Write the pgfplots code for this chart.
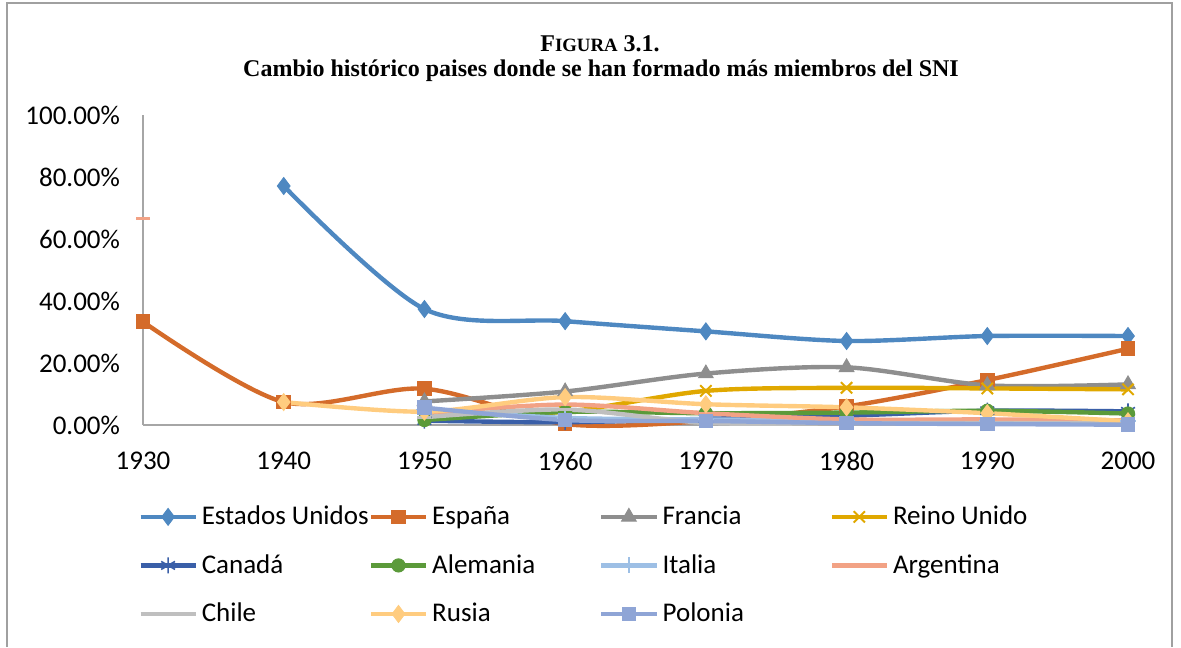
\documentclass[border=0pt]{standalone}
\usepackage{pgfplots}
\pgfplotsset{compat=1.18}
\usepackage{fontspec}
\setmainfont{Carlito}
\newfontfamily\tnr{Liberation Serif}
\definecolor{cEU}{HTML}{4E88C1}
\definecolor{cES}{HTML}{D46B2A}
\definecolor{cFR}{HTML}{8E8E8E}
\definecolor{cRU}{HTML}{E0A800}
\definecolor{cCA}{HTML}{3A5FA8}
\definecolor{cAL}{HTML}{5B9A3A}
\definecolor{cIT}{HTML}{9DBFE5}
\definecolor{cAR}{HTML}{F2A285}
\definecolor{cCH}{HTML}{BFBFBF}
\definecolor{cRS}{HTML}{FFCC7F}
\definecolor{cPO}{HTML}{8FA5D6}
\definecolor{axGray}{HTML}{A6A6A6}
\definecolor{frameGray}{HTML}{A0A0A0}
\newcommand{\legtxt}[1]{\hspace{2pt}\makebox[83.5pt][l]{#1}}
\begin{document}
\begin{tikzpicture}
\useasboundingbox (0pt,0pt) rectangle (590.5pt,323.5pt);
\draw[color=frameGray, line width=0.6pt] (3.5pt,0pt) -- (3.5pt,322pt) -- (586pt,322pt) -- (586pt,0pt);
\node[font=\tnr\bfseries] at (300pt,301.5pt) {\fontsize{12}{14}\selectfont F\fontsize{9.4}{11}\selectfont IGURA\fontsize{12}{14}\selectfont{} 3.1.};
\node[font=\tnr\bfseries\fontsize{12}{14}\selectfont] at (300.5pt,288pt) {Cambio histórico paises donde se han formado más miembros del SNI};
\begin{axis}[
  at={(71.5pt,111pt)}, anchor=south west,
  scale only axis, width=492.5pt, height=155pt,
  xmin=1930, xmax=2000, ymin=0, ymax=100,
  axis x line*=bottom, axis y line*=left,
  axis line style={draw=axGray, line width=0.8pt, -},
  xtick={1930,1940,1950,1960,1970,1980,1990,2000},
  xticklabels={1930,1940,1950,1960,1970,1980,1990,2000},
  ytick={0,20,40,60,80,100},
  yticklabels={0.00\%,20.00\%,40.00\%,60.00\%,80.00\%,100.00\%},
  major tick length=0pt,
  tick label style={font=\fontsize{13.5}{16}\selectfont, text=black},
  xticklabel style={yshift=-10pt},
  yticklabel style={xshift=-8pt},
  clip=false,
  every axis plot/.append style={line width=2.2pt, smooth},
  legend columns=4,
  legend cell align=left,
  legend style={at={(0.0,-0.26)}, anchor=north west, xshift=-2.5pt, draw=none, fill=none,
    inner sep=0pt, row sep=13.4pt,
    nodes={inner sep=0pt, font=\fontsize{13.5}{16}\selectfont}},
  legend image code/.code={\draw[mark repeat=2,mark phase=2] plot coordinates {(0pt,0pt)(13.75pt,0pt)(27.5pt,0pt)};},
]
% Estados Unidos
\addplot[color=cEU, mark=diamond*, mark size=4.2pt, mark options={solid, line width=0.5pt, fill=cEU}] coordinates {
(1940,77.1) (1950,37.4) (1960,33.5) (1970,30.2) (1980,27.1) (1990,28.7) (2000,28.7)};
\addlegendentry{\legtxt{Estados Unidos}}
% Espana
\addplot[color=cES, mark=square*, mark size=3.4pt, mark options={solid, line width=0.5pt, fill=cES}] coordinates {
(1930,33.3) (1940,7.4) (1950,11.7) (1960,0.3) (1970,1.3) (1980,6.0) (1990,14.5) (2000,24.6)};
\addlegendentry{\legtxt{España}}
% Francia
\addplot[color=cFR, mark=triangle*, mark size=4.2pt, mark options={solid, line width=0.5pt, fill=cFR}] coordinates {
(1950,7.6) (1960,10.8) (1970,16.6) (1980,18.6) (1990,12.8) (2000,13.1)};
\addlegendentry{\legtxt{Francia}}
% Reino Unido
\addplot[color=cRU, mark=x, mark size=4pt, mark options={solid, line width=1pt}] coordinates {
(1950,3.0) (1960,4.3) (1970,11.0) (1980,12.0) (1990,11.8) (2000,11.5)};
\addlegendentry{\legtxt{Reino Unido}}
% Canada
\addplot[color=cCA, mark=asterisk, mark size=4pt, mark options={solid, line width=0.8pt}] coordinates {
(1950,1.4) (1960,0.9) (1970,2.0) (1980,3.0) (1990,4.6) (2000,4.4)};
\addlegendentry{\legtxt{Canadá}}
% Alemania
\addplot[color=cAL, mark=*, mark size=3.3pt, mark options={solid, line width=0.5pt, fill=cAL}] coordinates {
(1950,1.6) (1960,4.2) (1970,3.8) (1980,4.0) (1990,4.6) (2000,3.7)};
\addlegendentry{\legtxt{Alemania}}
% Italia
\addplot[color=cIT, mark=+, mark size=4pt, mark options={solid, line width=0.8pt}] coordinates {
(1950,5.0) (1960,2.3) (1970,1.8) (1980,1.5) (1990,1.5) (2000,1.2)};
\addlegendentry{\legtxt{Italia}}
% Argentina
\addplot[color=cAR, mark=-, mark size=3.5pt, mark options={solid, line width=1.5pt}] coordinates {
(1950,3.8) (1960,6.6) (1970,3.8) (1980,1.8) (1990,1.8) (2000,1.5)};
\addlegendentry{\legtxt{Argentina}}
\addplot[color=cAR, only marks, mark=-, mark size=3.5pt, mark options={solid, line width=1.5pt}, forget plot] coordinates {
(1930,66.7)};
% Chile
\addplot[color=cCH, mark=-, mark size=3.5pt, mark options={solid, line width=1.5pt}] coordinates {
(1950,2.5) (1960,5.0) (1970,0.7) (1980,0.6) (1990,0.6) (2000,0.6)};
\addlegendentry{\legtxt{Chile}}
% Rusia
\addplot[color=cRS, mark=diamond*, mark size=4.2pt, mark options={solid, line width=0.5pt, fill=cRS}] coordinates {
(1940,7.4) (1950,4.3) (1960,9.0) (1970,6.7) (1980,5.7) (1990,3.8) (2000,1.2)};
\addlegendentry{\legtxt{Rusia}}
% Polonia
\addplot[color=cPO, mark=square*, mark size=3.4pt, mark options={solid, line width=0.5pt, fill=cPO}] coordinates {
(1950,5.6) (1960,1.6) (1970,1.3) (1980,0.6) (1990,0.3) (2000,0.1)};
\addlegendentry{\legtxt{Polonia}}
\end{axis}
\end{tikzpicture}
\end{document}
